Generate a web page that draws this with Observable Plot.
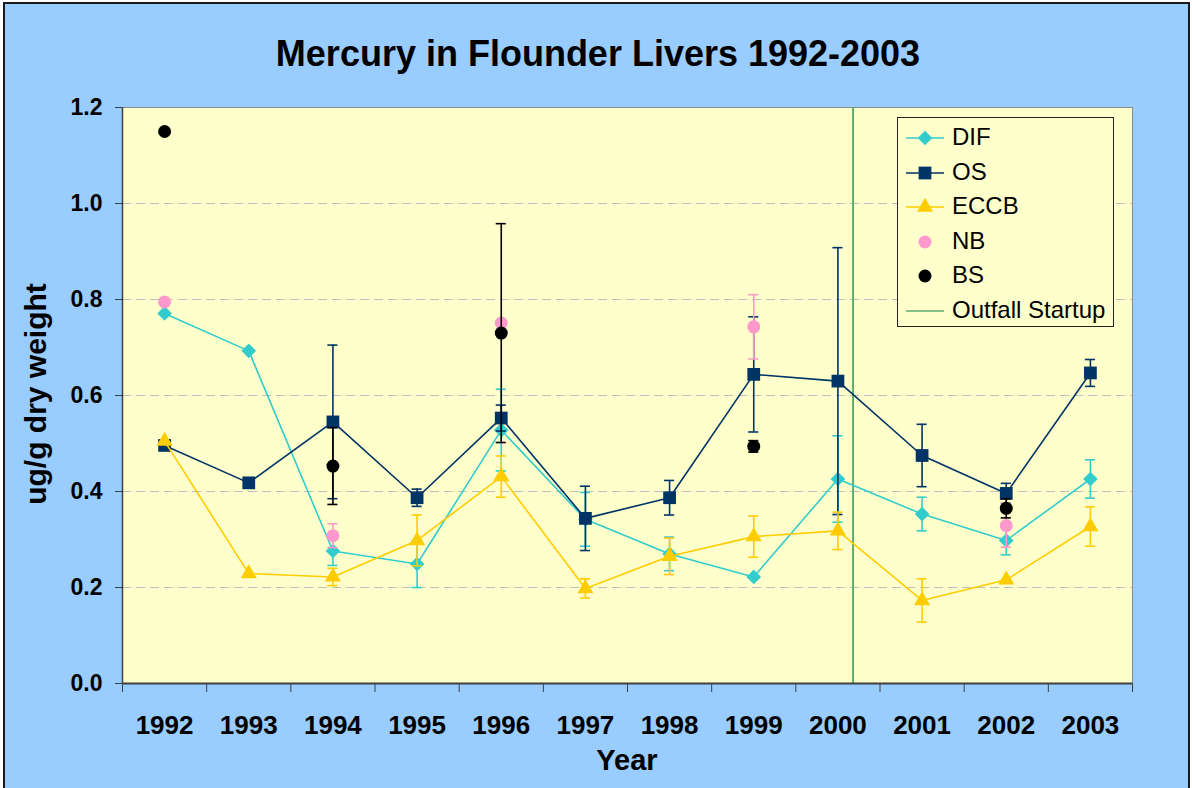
<!DOCTYPE html>
<html>
<head>
<meta charset="utf-8">
<script src="https://cdn.jsdelivr.net/npm/d3@7"></script>
<script src="https://cdn.jsdelivr.net/npm/@observablehq/plot@0.6"></script>
<style>
  body { margin: 0; background: #ffffff; font-family: "Liberation Sans", Arial, sans-serif; }
  #chart { position: relative; width: 1192px; height: 788px; overflow: hidden; }
  #bg { position: absolute; left: 3px; top: 2px; width: 1183px; height: 800px; border: 2px solid #1a1a1a; background: #99CCFF; }
  #plot { position: absolute; left: 0; top: 0; }
  .lbl { position: absolute; font-weight: bold; color: #000; line-height: 1; white-space: nowrap; }
  #title { left: 0; width: 1196px; text-align: center; top: 36px; font-size: 36px; }
  #xlabel { left: 527px; width: 200px; text-align: center; top: 746px; font-size: 29px; }
  #ylabel { left: 36px; top: 394px; font-size: 30px; transform: translate(-50%, -50%) rotate(-90deg); }
  #legend { position: absolute; left: 897px; top: 117px; width: 217px; height: 210px; box-sizing: border-box;
            border: 1.5px solid #222; background: #FFFFCC; }
  .row { position: absolute; left: 0; height: 34px; width: 215px; }
  .row svg { position: absolute; left: 6px; top: 0; }
  .row span { position: absolute; left: 54px; top: 4px; font-size: 24px; line-height: 1; color: #000; }
</style>
</head>
<body>
<div id="chart">
  <div id="bg"></div>
  <div id="plot"></div>
  <div id="title" class="lbl">Mercury in Flounder Livers 1992-2003</div>
  <div id="xlabel" class="lbl">Year</div>
  <div id="ylabel" class="lbl">ug/g dry weight</div>
  <div id="legend"></div>
</div>
<script>
// ---------- data ----------
const years = [1992, 1993, 1994, 1995, 1996, 1997, 1998, 1999, 2000, 2001, 2002, 2003];
const tickLabels = years.map(String);

const difValues  = [0.771, 0.693, 0.276, 0.249, 0.528, 0.342, 0.270, 0.222, 0.426, 0.353, 0.298, 0.426];
const difErrors  = [null,  null,  0.030, 0.049, 0.085, 0.056, 0.035, null,  0.090, 0.035, 0.030, 0.040];

const osValues   = [0.496, 0.418, 0.545, 0.387, 0.553, 0.344, 0.387, 0.644, 0.630, 0.475, 0.396, 0.647];
const osErrors   = [null,  null,  0.160, 0.018, 0.027, 0.067, 0.036, 0.120, 0.278, 0.065, 0.021, 0.028];

const eccbValues = [0.505, 0.229, 0.222, 0.298, 0.431, 0.198, 0.265, 0.306, 0.318, 0.173, 0.216, 0.327];
const eccbErrors = [null,  null,  0.018, 0.053, 0.043, 0.020, 0.038, 0.043, 0.039, 0.045, null,  0.041];

const nbValues   = [0.795, null, 0.308, null, 0.751, null, null, 0.743, null, null, 0.329, null];
const nbErrors   = [null,  null, 0.025, null, null,  null, null, 0.067, null, null, 0.045, null];

const bsValues   = [1.150, null, 0.453, null, 0.730, null, null, 0.494, null, null, 0.365, null];
const bsErrors   = [null,  null, 0.080, null, 0.228, null, null, 0.012, null, null, 0.020, null];

const outfallStartup = [2000.18];
const yTicks = [0, 0.2, 0.4, 0.6, 0.8, 1.0, 1.2];
const gridValues = [0.2, 0.4, 0.6, 0.8, 1.0];

const seriesNames = ["DIF", "OS", "ECCB", "NB", "BS"];

// ---------- styles ----------
const seriesDefs = [
  {name: "DIF",  values: difValues,  errors: difErrors,  color: "#33CCCC", symbol: "diamond2", r: 6.6, line: true},
  {name: "OS",   values: osValues,   errors: osErrors,   color: "#003366", symbol: "square",   r: 7.2, line: true},
  {name: "ECCB", values: eccbValues, errors: eccbErrors, color: "#FFCC00", symbol: "triangle", r: 6.0, line: true},
  {name: "NB",   values: nbValues,   errors: nbErrors,   color: "#FF99CC", symbol: "circle",   r: 6.5, line: false},
  {name: "BS",   values: bsValues,   errors: bsErrors,   color: "#000000", symbol: "circle",   r: 6.5, line: false}
];
const outfallColor = "#5DAE6E";
const capHalf = 0.06;
const boundaries = d3.range(years.length + 1).map(i => years[0] - 0.5 + i);

const marks = [
  Plot.frame({fill: "#FFFFCC", stroke: "#8a8a8a", strokeWidth: 1}),
  Plot.gridY(gridValues, {stroke: "#BDBDBD", strokeOpacity: 1, strokeWidth: 1, strokeDasharray: "9,5"}),
  Plot.ruleX(outfallStartup, {stroke: outfallColor, strokeWidth: 2})
];

for (const s of seriesDefs) {
  const rows = years.map((yr, i) => ({year: yr, value: s.values[i], err: s.errors[i]}))
                    .filter(d => d.value != null);
  const er = rows.filter(d => d.err != null);
  if (s.line) marks.push(Plot.line(rows, {x: "year", y: "value", stroke: s.color, strokeWidth: 1.6}));
  marks.push(Plot.ruleX(er, {x: "year", y1: d => d.value - d.err, y2: d => d.value + d.err, stroke: s.color, strokeWidth: 1.6}));
  marks.push(Plot.ruleY(er, {y: d => d.value + d.err, x1: d => d.year - capHalf, x2: d => d.year + capHalf, stroke: s.color, strokeWidth: 1.6}));
  marks.push(Plot.ruleY(er, {y: d => d.value - d.err, x1: d => d.year - capHalf, x2: d => d.year + capHalf, stroke: s.color, strokeWidth: 1.6}));
  marks.push(Plot.dot(rows, {x: "year", y: "value", symbol: s.symbol, r: s.r, fill: s.color, stroke: "none"}));
}

marks.push(
  Plot.ruleY([0], {stroke: "#404040", strokeWidth: 2}),
  Plot.ruleX([boundaries[0]], {stroke: "#404040", strokeWidth: 1.5}),
  Plot.axisY({ticks: yTicks, tickFormat: d => d.toFixed(1), tickSize: 7, tickPadding: 13,
              fontSize: 23, fontWeight: "bold", stroke: "#404040", label: null}),
  Plot.axisX({ticks: boundaries, tickSize: 9, tickFormat: () => "", stroke: "#404040", label: null}),
  Plot.axisX({ticks: years, tickSize: 0, tickPadding: 32, fontSize: 26, fontWeight: "bold",
              tickFormat: d => tickLabels[years.indexOf(d)], label: null})
);

const chart = Plot.plot({
  width: 1192,
  height: 788,
  marginLeft: 122,
  marginRight: 60,
  marginTop: 107,
  marginBottom: 105,
  style: {background: "transparent", color: "#000", fontFamily: "'Liberation Sans', Arial, sans-serif", overflow: "visible"},
  x: {domain: [boundaries[0], boundaries[boundaries.length - 1]]},
  y: {domain: [0, 1.2]},
  marks
});
document.getElementById("plot").appendChild(chart);

// ---------- legend ----------
const legend = document.getElementById("legend");
const legendItems = [...seriesDefs.map(s => ({name: s.name, color: s.color, symbol: s.symbol, r: s.r, line: s.line})),
                     {name: "Outfall Startup", color: outfallColor, symbol: null, line: true}];
legendItems.forEach((it, i) => {
  const row = document.createElement("div");
  row.className = "row";
  row.style.top = (3 + i * 34.6) + "px";
  const svg = d3.create("svg").attr("width", 44).attr("height", 34);
  if (it.line) svg.append("line").attr("x1", 2).attr("x2", 40).attr("y1", 17).attr("y2", 17)
                 .attr("stroke", it.color).attr("stroke-width", 1.6);
  if (it.symbol) {
    const symMap = {diamond2: d3.symbolDiamond2, square: d3.symbolSquare, triangle: d3.symbolTriangle, circle: d3.symbolCircle};
    svg.append("path").attr("transform", "translate(21,17)")
       .attr("d", d3.symbol(symMap[it.symbol], Math.PI * it.r * it.r)()).attr("fill", it.color);
  }
  row.appendChild(svg.node());
  const span = document.createElement("span");
  span.textContent = it.name;
  row.appendChild(span);
  legend.appendChild(row);
});
</script>
</body>
</html>
